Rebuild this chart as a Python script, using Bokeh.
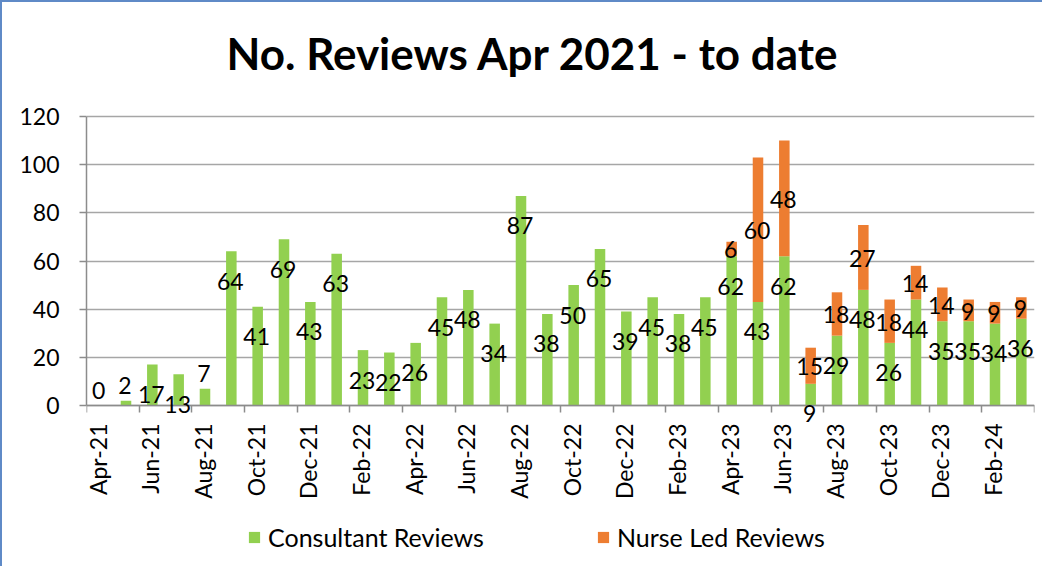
import math
from bokeh.plotting import figure
from bokeh.models import (ColumnDataSource, LabelSet, FixedTicker, Range1d,
                          Legend, LegendItem)
from bokeh.core.properties import value
from bokeh.embed import file_html
from bokeh.resources import INLINE

# ---------------- data ----------------
months = ["Apr-21", "May-21", "Jun-21", "Jul-21", "Aug-21", "Sep-21",
          "Oct-21", "Nov-21", "Dec-21", "Jan-22", "Feb-22", "Mar-22",
          "Apr-22", "May-22", "Jun-22", "Jul-22", "Aug-22", "Sep-22",
          "Oct-22", "Nov-22", "Dec-22", "Jan-23", "Feb-23", "Mar-23",
          "Apr-23", "May-23", "Jun-23", "Jul-23", "Aug-23", "Sep-23",
          "Oct-23", "Nov-23", "Dec-23", "Jan-24", "Feb-24", "Mar-24"]
consultant = [0, 2, 17, 13, 7, 64, 41, 69, 43, 63, 23, 22,
              26, 45, 48, 34, 87, 38, 50, 65, 39, 45, 38, 45,
              62, 43, 62, 9, 29, 48, 26, 44, 35, 35, 34, 36]
nurse = [0, 0, 0, 0, 0, 0, 0, 0, 0, 0, 0, 0,
         0, 0, 0, 0, 0, 0, 0, 0, 0, 0, 0, 0,
         6, 60, 48, 15, 18, 27, 18, 14, 14, 9, 9, 9]
series_names = ["Consultant Reviews", "Nurse Led Reviews"]
title_text = "No. Reviews Apr 2021 - to date"
y_ticks = [0, 20, 40, 60, 80, 100, 120]
y_max = 120
# consultant labels drawn above the bar (outside end) instead of inside end
labels_outside_end = [0, 1, 4]

# ---------------- style / layout ----------------
GREEN = "#92d050"
ORANGE = "#ed7d31"
AXIS = "#8c8c8c"
GRID = "#a6a6a6"
FONT = "Lato"
FS = "23px"
W, H = 1042, 566
TOP, BOTTOM, LEFT, RIGHT = 90, 10, 84, 10
AXIS_TOP_PX = 114            # pixel row of the y_max gridline
VALUE_AREA_PX = 289          # pixel height from 0 to y_max
px_per_unit = VALUE_AREA_PX / y_max
frame_h = H - TOP - BOTTOM
y_end = y_max + (AXIS_TOP_PX - TOP) / px_per_unit
y_start = y_end - frame_h / px_per_unit   # room below 0 for labels/legend

idx = list(range(len(months)))
src = ColumnDataSource(dict(x=idx, consultant=consultant, nurse=nurse))

p = figure(width=W, height=H, output_backend="svg", toolbar_location=None,
           x_range=Range1d(-0.5, len(months) - 0.5),
           y_range=Range1d(y_start, y_end),
           min_border_left=LEFT, min_border_right=RIGHT, min_border_top=TOP,
           min_border_bottom=BOTTOM)
p.styles = {"border-left": "2px solid #5f8ac7", "border-top": "2px solid #5f8ac7"}
p.outline_line_color = None
p.background_fill_color = "white"
p.border_fill_color = "white"

p.title.text = title_text
p.title.align = "left"
p.title.offset = 140
p.title.text_font = FONT
p.title.text_font_style = "bold"
p.title.text_font_size = "44px"
p.title.text_color = "black"
p.title.standoff = 27

renderers = p.vbar_stack(["consultant", "nurse"], x="x", width=0.4,
                         color=[GREEN, ORANGE], line_color=None, source=src)

# x axis: line at 0 with tick marks between every second month
p.xaxis.fixed_location = 0
p.xaxis.ticker = FixedTicker(ticks=[],
                             minor_ticks=[i - 0.5 for i in range(0, len(months) + 1, 2)])
p.xaxis.major_tick_out = 0
p.xaxis.major_tick_in = 0
p.xaxis.major_label_standoff = 0
p.xaxis.minor_tick_out = 7
p.xaxis.minor_tick_in = 0
p.xaxis.minor_tick_line_color = AXIS
p.xaxis.minor_tick_line_width = 1.5
p.xaxis.axis_line_color = AXIS
p.xaxis.axis_line_width = 1.5

p.yaxis.ticker = FixedTicker(ticks=y_ticks)
p.yaxis.bounds = (0, y_max)
p.yaxis.minor_tick_line_color = None
p.yaxis.major_tick_out = 7
p.yaxis.major_tick_in = 0
p.yaxis.major_tick_line_color = AXIS
p.yaxis.major_tick_line_width = 1.5
p.yaxis.axis_line_color = AXIS
p.yaxis.axis_line_width = 1.5
p.yaxis.major_label_standoff = 20
p.yaxis.major_label_text_font = FONT
p.yaxis.major_label_text_font_size = FS
p.yaxis.major_label_text_color = "black"

p.xgrid.visible = False
p.ygrid.ticker = FixedTicker(ticks=y_ticks)
p.ygrid.grid_line_color = GRID
p.ygrid.grid_line_width = 1.5

common = dict(x="x", y="y", text="t", text_font=value(FONT), text_font_size=FS,
              text_color="black")

# month labels (every second month), vertical, under the axis
lab_i = idx[::2]
src_m = ColumnDataSource(dict(x=lab_i, y=[0] * len(lab_i), t=[months[i] for i in lab_i]))
p.add_layout(LabelSet(source=src_m, angle=math.pi / 2, y_offset=-18, x_offset=-2,
                      text_align="right", text_baseline="middle", **common))

# data labels
inside_i = [i for i in idx if i not in labels_outside_end]
out_i = [i for i in idx if i in labels_outside_end]
src_in = ColumnDataSource(dict(x=inside_i, y=[consultant[i] for i in inside_i],
                               t=[str(consultant[i]) for i in inside_i]))
src_out = ColumnDataSource(dict(x=out_i, y=[consultant[i] for i in out_i],
                                t=[str(consultant[i]) for i in out_i]))
nurse_i = [i for i in idx if nurse[i] > 0]
src_n = ColumnDataSource(dict(x=nurse_i,
                              y=[consultant[i] + nurse[i] / 2 for i in nurse_i],
                              t=[str(nurse[i]) for i in nurse_i]))

lab = dict(text_align="center", text_baseline="middle", x_offset=-1, **common)
p.add_layout(LabelSet(source=src_in, y_offset=-30, **lab))
p.add_layout(LabelSet(source=src_out, y_offset=15, **lab))
p.add_layout(LabelSet(source=src_n, y_offset=-1, **lab))

legend = Legend(items=[LegendItem(label=series_names[k], renderers=[renderers[k]])
                       for k in range(2)],
                orientation="horizontal", location=(161, 6),
                label_text_font=FONT, label_text_font_size="25px",
                label_text_color="black", glyph_width=14, glyph_height=14,
                label_standoff=7, spacing=112, border_line_color=None,
                background_fill_alpha=0, margin=0, padding=0)
p.add_layout(legend, "center")

open("out.html", "w").write(file_html(p, INLINE))
